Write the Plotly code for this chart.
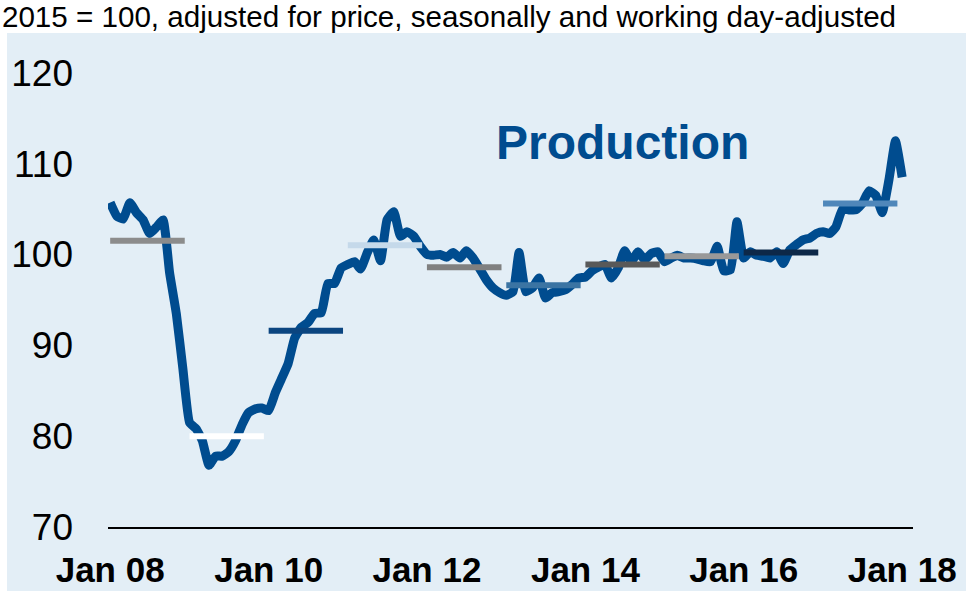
import pandas as pd
import plotly.graph_objects as go

# monthly production index, Jan 2008 .. Jan 2018 (2015 = 100)
production = [
    105.7, 104.2, 103.9, 105.7, 104.6, 103.8, 102.3, 103.0, 103.8, 98.0, 93.5, 87.5,
    81.5, 80.8, 79.5, 76.8, 77.8, 77.8, 78.3, 79.5, 81.3, 82.6, 83.0, 83.1,
    82.8, 84.8, 86.3, 88.0, 90.8, 92.0, 92.5, 93.5, 93.6, 96.8, 96.8, 98.5,
    98.9, 99.2, 98.4, 100.2, 101.6, 99.3, 103.8, 104.7, 102.0, 102.5, 102.0, 100.9,
    100.0, 99.9, 100.0, 99.7, 100.2, 99.6, 100.4, 99.6, 98.4, 97.2, 96.3, 95.8,
    95.5, 95.9, 100.2, 95.9, 96.3, 97.4, 95.2, 95.8, 95.9, 96.1, 96.7, 97.4,
    97.5, 98.2, 98.6, 98.9, 97.4, 98.5, 100.4, 99.2, 100.3, 99.4, 100.1, 100.3,
    99.2, 99.6, 99.9, 99.6, 99.6, 99.5, 99.3, 99.2, 100.9, 98.2, 98.3, 103.6,
    99.6, 100.3, 99.9, 99.8, 99.6, 100.3, 99.0, 100.5, 101.1, 101.6, 101.8, 102.3,
    102.5, 102.3, 103.0, 105.0, 104.9, 104.9, 105.6, 107.0, 106.5, 104.6, 108.2, 112.5,
    108.5,
]
months = pd.date_range("2008-01-01", periods=len(production), freq="MS")

# annual averages
years = [2008, 2009, 2010, 2011, 2012, 2013, 2014, 2015, 2016, 2017]
annual_avg = [101.5, 80.0, 91.6, 101.0, 98.6, 96.6, 98.9, 99.8, 100.2, 105.6]
avg_colors = ["#8c8c8c", "#ffffff", "#0b4580", "#c5d9ea", "#808080",
              "#3b74a3", "#595959", "#999999", "#0d2848", "#4f87ba"]

tick_dates = pd.date_range("2008-01-01", "2018-01-01", freq="24MS")

W, H = 966, 591
L, R, T, B = 108, 53, 40, 64
pw, ph = W - L - R, H - T - B

fig = go.Figure()
fig.add_trace(go.Scatter(x=months, y=production, mode="lines",
                         line=dict(color="#004c8f", width=9, shape="spline", smoothing=0.4),
                         showlegend=False, hoverinfo="x+y"))

for yr, avg, col in zip(years, annual_avg, avg_colors):
    fig.add_trace(go.Scatter(x=[pd.Timestamp(yr, 1, 1), pd.Timestamp(yr, 12, 10)],
                             y=[avg, avg], mode="lines",
                             line=dict(color=col, width=6),
                             showlegend=False, hoverinfo="y"))

# light blue panel behind the chart (pixel box converted to paper coords)
def px_x(x):
    return (x - L) / pw

def px_y(y):
    return (H - B - y) / ph

fig.add_shape(type="rect", xref="paper", yref="paper",
              x0=px_x(7), x1=px_x(W + 5), y0=px_y(H + 5), y1=px_y(33),
              fillcolor="#e3eef6", line=dict(width=0), layer="below")

fig.add_annotation(text="<b>Production</b>", xref="paper", yref="paper",
                   x=px_x(622), y=px_y(142), showarrow=False,
                   xanchor="center", yanchor="middle",
                   font=dict(size=48, color="#004c8f", family="Liberation Sans, Arial"))

fig.update_layout(
    width=W, height=H,
    margin=dict(l=L, r=R, t=T, b=B, autoexpand=False),
    paper_bgcolor="white",
    plot_bgcolor="rgba(0,0,0,0)",
    font=dict(family="Liberation Sans, Arial", color="black"),
    title=dict(text="2015 = 100, adjusted for price, seasonally and working day-adjusted",
               xref="container", yref="container", x=0.002, xanchor="left",
               y=1 - 17 / H, yanchor="middle",
               font=dict(size=29.6, family="Liberation Sans, Arial", color="black")),
    xaxis=dict(range=[pd.Timestamp("2007-12-22"), pd.Timestamp("2018-02-20")],
               tickvals=tick_dates, tickformat="%b %y",
               showgrid=False, zeroline=False, automargin=False,
               showline=True, linecolor="black", linewidth=1.5,
               ticks="", ticklabelstandoff=11,
               tickfont=dict(size=35, weight="bold", color="black")),
    yaxis=dict(range=[70, 123.6], tickvals=[70, 80, 90, 100, 110, 120],
               showgrid=False, zeroline=False, showline=False, automargin=False,
               ticks="", ticklabelstandoff=34,
               tickfont=dict(size=37, color="black")),
)

fig.write_html("out.html", config={"displayModeBar": False},
               post_script="document.body.style.margin='0';")
